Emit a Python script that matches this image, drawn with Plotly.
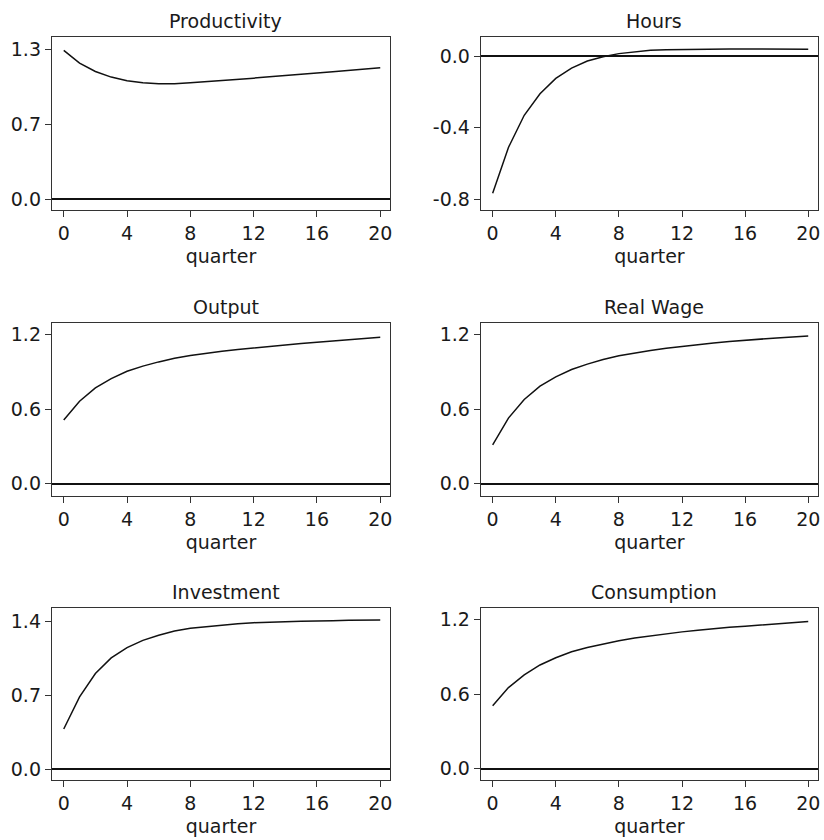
import plotly.graph_objects as go

quarters = list(range(21))

productivity = [1.288, 1.178, 1.106, 1.057, 1.025, 1.008, 1.000, 1.000, 1.008, 1.017, 1.025,
                1.037, 1.048, 1.060, 1.069, 1.080, 1.092, 1.103, 1.115, 1.124, 1.138]
hours = [-0.766, -0.510, -0.330, -0.210, -0.124, -0.066, -0.026, -0.002, 0.015, 0.026, 0.034,
         0.037, 0.039, 0.041, 0.041, 0.041, 0.041, 0.041, 0.039, 0.039, 0.039]
output = [0.512, 0.664, 0.771, 0.846, 0.905, 0.946, 0.980, 1.010, 1.031, 1.050, 1.066,
          1.080, 1.093, 1.104, 1.117, 1.128, 1.138, 1.149, 1.160, 1.168, 1.179]
real_wage = [0.313, 0.528, 0.678, 0.785, 0.860, 0.919, 0.962, 0.999, 1.029, 1.053, 1.072,
             1.090, 1.106, 1.120, 1.133, 1.144, 1.155, 1.165, 1.173, 1.181, 1.189]
investment = [0.381, 0.686, 0.906, 1.054, 1.151, 1.220, 1.268, 1.309, 1.334, 1.350, 1.365,
              1.378, 1.387, 1.394, 1.397, 1.400, 1.406, 1.406, 1.410, 1.412, 1.412]
consumption = [0.507, 0.653, 0.755, 0.835, 0.893, 0.941, 0.976, 1.005, 1.029, 1.051, 1.069,
               1.085, 1.101, 1.115, 1.128, 1.139, 1.147, 1.157, 1.165, 1.176, 1.184]

titles = ["Productivity", "Hours", "Output", "Real Wage", "Investment", "Consumption"]
series = [productivity, hours, output, real_wage, investment, consumption]

x_ticks = [0, 4, 8, 12, 16, 20]
x_label = "quarter"

y_tickvals = [[0, 0.65, 1.3], [-0.8, -0.4, 0.0], [0, 0.6, 1.2],
              [0, 0.6, 1.2], [0, 0.7, 1.4], [0, 0.6, 1.2]]
y_ticktext = [["0.0", "0.7", "1.3"], ["-0.8", "-0.4", "0.0"], ["0.0", "0.6", "1.2"],
              ["0.0", "0.6", "1.2"], ["0.0", "0.7", "1.4"], ["0.0", "0.6", "1.2"]]
y_ranges = [[-0.093, 1.404], [-0.86, 0.108], [-0.099, 1.293],
            [-0.099, 1.293], [-0.101, 1.526], [-0.09, 1.293]]

W, H = 824, 840
# pixel boxes for columns / rows
cols_px = [(52, 391), (482, 820)]
rows_px = [(37, 210), (323, 496), (608, 780)]

FONT = "DejaVu Sans"
FS = 19
TXT = "#1a1a1a"

fig = go.Figure()
layout = dict(
    width=W, height=H, autosize=False,
    margin=dict(l=0, r=0, t=0, b=0),
    paper_bgcolor="white", plot_bgcolor="white",
    showlegend=False,
    font=dict(family=FONT, size=FS, color=TXT),
    annotations=[],
)

for i, (title, vals) in enumerate(zip(titles, series)):
    r, c = divmod(i, 2)
    n = i + 1
    xa = "x" if n == 1 else f"x{n}"
    ya = "y" if n == 1 else f"y{n}"
    fig.add_trace(go.Scatter(x=quarters, y=vals, mode="lines",
                             line=dict(color="#111", width=1.5),
                             xaxis=xa, yaxis=ya, hoverinfo="skip"))
    x0, x1 = cols_px[c]
    t0, t1 = rows_px[r]
    xdom = [x0 / W, x1 / W]
    ydom = [1 - t1 / H, 1 - t0 / H]
    layout[f"xaxis{'' if n == 1 else n}"] = dict(
        domain=xdom, anchor=ya, range=[-0.75, 20.62],
        tickvals=x_ticks, ticks="outside", ticklen=6, tickcolor="#333",
        showline=True, linecolor="#333", linewidth=1.2, mirror=True,
        showgrid=False, zeroline=False,
        title=dict(text=x_label, standoff=6, font=dict(size=FS, color=TXT)),
        tickfont=dict(size=FS, color=TXT),
    )
    layout[f"yaxis{'' if n == 1 else n}"] = dict(
        domain=ydom, anchor=xa, range=y_ranges[i],
        tickvals=y_tickvals[i], ticktext=y_ticktext[i],
        ticks="outside", ticklen=6, tickcolor="#333",
        showline=True, linecolor="#333", linewidth=1.2, mirror=True,
        showgrid=False, zeroline=True, zerolinecolor="#111", zerolinewidth=1.6,
        tickfont=dict(size=FS, color=TXT),
    )
    layout["annotations"].append(dict(
        text=title, xref="paper", yref="paper",
        x=(x0 + x1) / 2 / W, y=1 - t0 / H, xanchor="center", yanchor="bottom",
        xshift=5, yshift=3, showarrow=False, font=dict(size=FS, color=TXT),
    ))

fig.update_layout(**layout)
fig.write_html("out.html")
